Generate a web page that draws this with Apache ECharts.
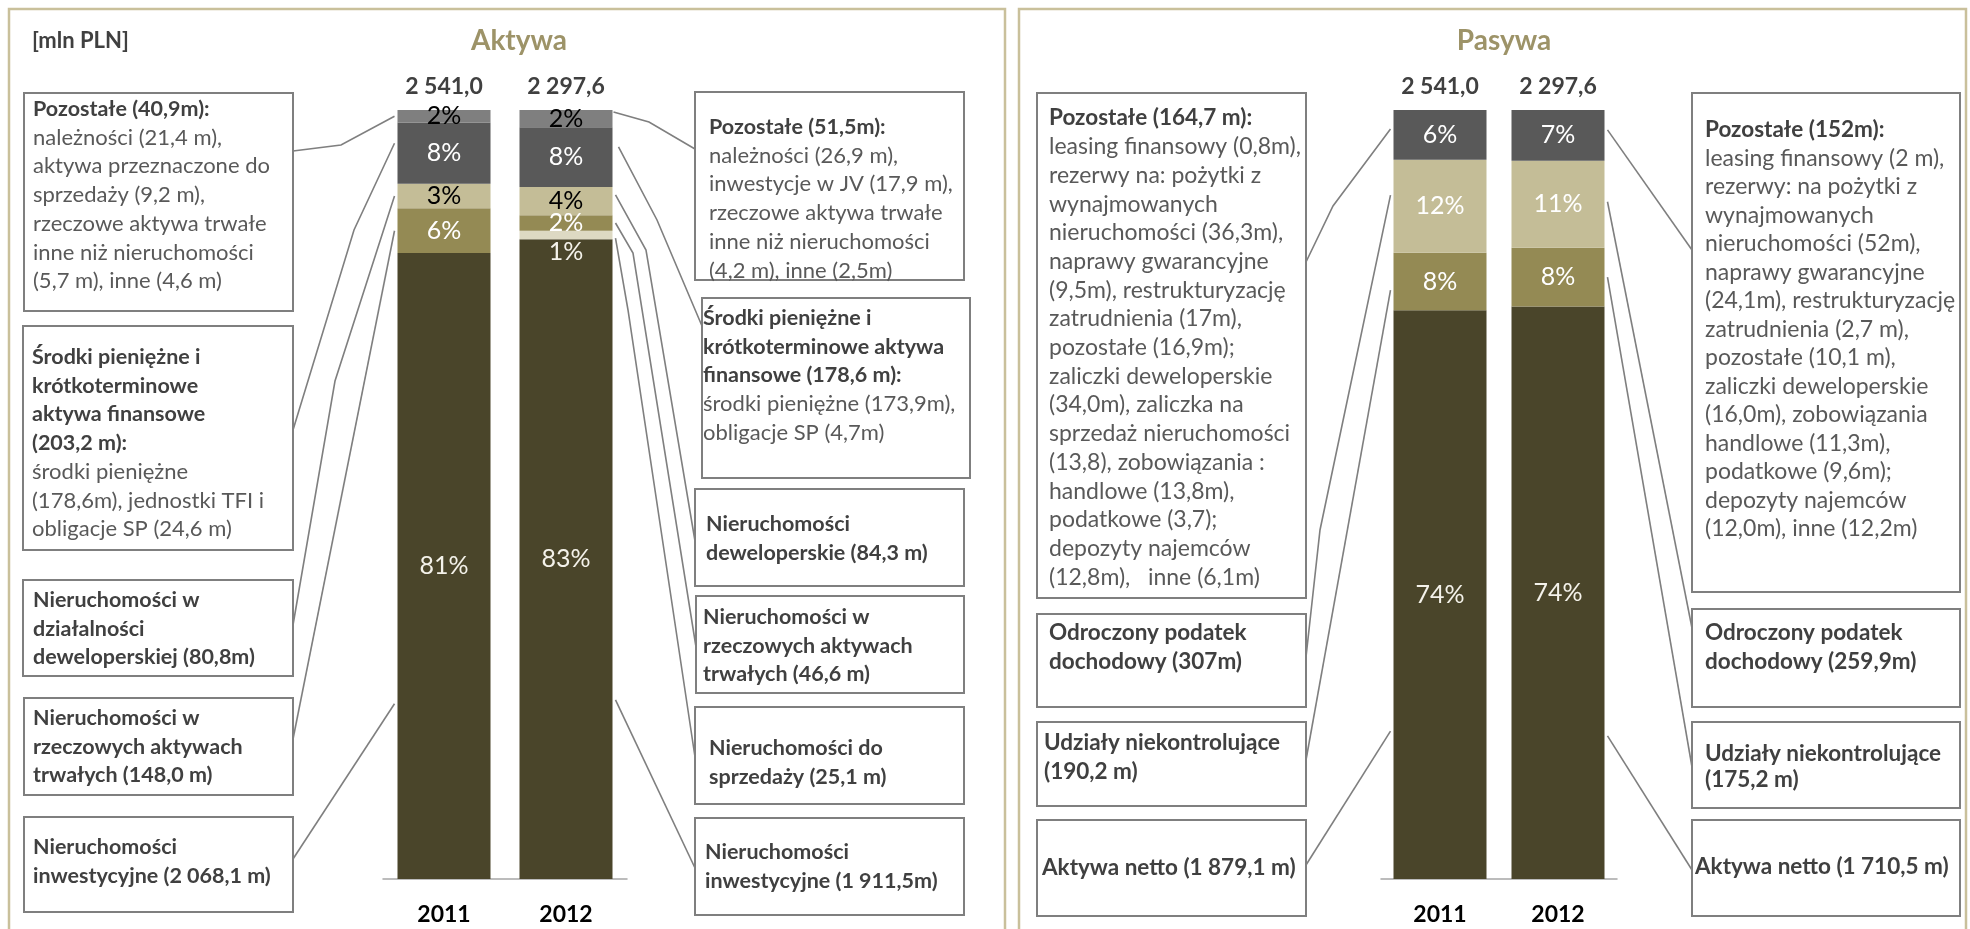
<!DOCTYPE html>
<html><head><meta charset="utf-8">
<script src="https://cdn.jsdelivr.net/npm/echarts@6/dist/echarts.min.js"></script>
<style>html,body{margin:0;padding:0;background:#fff}#c{width:1970px;height:929px}</style>
</head><body><div id="c"></div>
<script>
// ---------- DATA ----------
const years = ['2011', '2012'];
// Aktywa [mln PLN] (stack order bottom -> top)
const aktInwestycyjne = [2068.1, 1911.5];
const aktDoSprzedazy  = [0, 25.1];
const aktRzeczowe     = [148.0, 46.6];
const aktDeweloperskie= [80.8, 84.3];
const aktSrodki       = [203.2, 178.6];
const aktPozostale    = [40.9, 51.5];
// Pasywa [mln PLN]
const pasNetto     = [1879.1, 1710.5];
const pasUdzialy   = [190.2, 175.2];
const pasPodatek   = [307.0, 259.9];
const pasPozostale = [164.7, 152.0];

// Box texts: 'b:' bold line, 'r:' regular line
const txtAktPoz11 = ['b:Pozostałe (40,9m):','r:należności (21,4 m),','r:aktywa przeznaczone do','r:sprzedaży (9,2 m),','r:rzeczowe aktywa trwałe','r:inne niż nieruchomości','r:(5,7 m), inne (4,6 m)'];
const txtAktSrod11 = ['b:Środki pieniężne i','b:krótkoterminowe','b:aktywa finansowe','b:(203,2 m):','r:środki pieniężne','r:(178,6m), jednostki TFI i','r:obligacje SP (24,6 m)'];
const txtAktDew11 = ['b:Nieruchomości w','b:działalności','b:deweloperskiej (80,8m)'];
const txtAktRz11 = ['b:Nieruchomości w','b:rzeczowych aktywach','b:trwałych (148,0 m)'];
const txtAktInw11 = ['b:Nieruchomości','b:inwestycyjne (2 068,1 m)'];
const txtAktPoz12 = ['b:Pozostałe (51,5m):','r:należności (26,9 m),','r:inwestycje w JV (17,9 m),','r:rzeczowe aktywa trwałe','r:inne niż nieruchomości','r:(4,2 m), inne (2,5m)'];
const txtAktSrod12 = ['b:Środki pieniężne i','b:krótkoterminowe aktywa','b:finansowe (178,6 m):','r:środki pieniężne (173,9m),','r:obligacje SP (4,7m)'];
const txtAktDew12 = ['b:Nieruchomości','b:deweloperskie (84,3 m)'];
const txtAktRz12 = ['b:Nieruchomości w','b:rzeczowych aktywach','b:trwałych (46,6 m)'];
const txtAktSp12 = ['b:Nieruchomości do','b:sprzedaży (25,1 m)'];
const txtAktInw12 = ['b:Nieruchomości','b:inwestycyjne (1 911,5m)'];
const txtPasPoz11 = ['b:Pozostałe (164,7 m):','r:leasing finansowy (0,8m),','r:rezerwy na: pożytki z','r:wynajmowanych','r:nieruchomości (36,3m),','r:naprawy gwarancyjne','r:(9,5m), restrukturyzację','r:zatrudnienia (17m),','r:pozostałe (16,9m);','r:zaliczki deweloperskie','r:(34,0m), zaliczka na','r:sprzedaż nieruchomości','r:(13,8), zobowiązania :','r:handlowe (13,8m),','r:podatkowe (3,7);','r:depozyty najemców','r:(12,8m),   inne (6,1m)'];
const txtPasPod11 = ['b:Odroczony podatek','b:dochodowy (307m)'];
const txtPasUdz11 = ['b:Udziały niekontrolujące','b:(190,2 m)'];
const txtPasNet11 = ['b:Aktywa netto (1 879,1 m)'];
const txtPasPoz12 = ['b:Pozostałe (152m):','r:leasing finansowy (2 m),','r:rezerwy: na pożytki z','r:wynajmowanych','r:nieruchomości (52m),','r:naprawy gwarancyjne','r:(24,1m), restrukturyzację','r:zatrudnienia (2,7 m),','r:pozostałe (10,1 m),','r:zaliczki deweloperskie','r:(16,0m), zobowiązania','r:handlowe (11,3m),','r:podatkowe (9,6m);','r:depozyty najemców','r:(12,0m), inne (12,2m)'];
const txtPasPod12 = ['b:Odroczony podatek','b:dochodowy (259,9m)'];
const txtPasUdz12 = ['b:Udziały niekontrolujące','b:(175,2 m)'];
const txtPasNet12 = ['b:Aktywa netto (1 710,5 m)'];

// ---------- HELPERS ----------
const FONT = 'Lato';
const C_DARK = '#4A452A', C_OLIVE = '#948A54', C_TAN = '#C4BD97', C_CREAM = '#DDD9C3', C_G1 = '#595959', C_G2 = '#7F7F7F';
const LIGHT = '#F4F2EA';
const BAR_W = 93;

function sums(arrs){ return years.map((_, i) => arrs.reduce((s, a) => s + a[i], 0)); }
function pcts(arrs, tot){ return arrs.map(a => a.map((v, i) => v / tot[i] * 100)); }
function roundLR(arrs, tot){ // largest remainder rounding per category
  const out = arrs.map(() => years.map(() => 0));
  years.forEach((_, i) => {
    const raw = arrs.map(a => a[i] / tot[i] * 100);
    const fl = raw.map(Math.floor);
    let rest = 100 - fl.reduce((s, v) => s + v, 0);
    const order = raw.map((v, k) => [v - fl[k], k]).sort((a, b) => b[0] - a[0]);
    for (let j = 0; j < rest; j++) fl[order[j][1]]++;
    fl.forEach((v, k) => out[k][i] = v);
  });
  return out;
}
function fmtTotal(v){
  const s = v.toFixed(1).split('.');
  return s[0].replace(/\B(?=(\d{3})+(?!\d))/g, ' ') + ',' + s[1];
}

const aktArrs = [aktInwestycyjne, aktDoSprzedazy, aktRzeczowe, aktDeweloperskie, aktSrodki, aktPozostale];
const pasArrs = [pasNetto, pasUdzialy, pasPodatek, pasPozostale];
const aktTot = sums(aktArrs), pasTot = sums(pasArrs);
const aktPct = pcts(aktArrs, aktTot), pasPct = pcts(pasArrs, pasTot);
const aktLbl = roundLR(aktArrs, aktTot), pasLbl = roundLR(pasArrs, pasTot);

const aktColors = [C_DARK, C_CREAM, C_OLIVE, C_TAN, C_G1, C_G2];
const aktLblColors = [LIGHT, LIGHT, '#ffffff', '#000000', '#ffffff', '#000000'];
const pasColors = [C_DARK, C_OLIVE, C_TAN, C_G1];
const pasLblColors = [LIGHT, '#ffffff', '#ffffff', '#ffffff'];

function mkSeries(grid, k, pctArr, lblArr, color, lblColor, stack){
  const isCream = (grid === 0 && k === 1);
  return {
    type: 'bar', xAxisIndex: grid === 0 ? 0 : 2, yAxisIndex: grid, stack: stack,
    barWidth: BAR_W, data: pctArr, itemStyle: { color: color },
    label: {
      show: true, position: isCream ? 'bottom' : 'inside', distance: 0,
      color: lblColor, fontFamily: FONT, fontSize: 25,
      formatter: p => lblArr[p.dataIndex] ? lblArr[p.dataIndex] + '%' : ''
    },
    emphasis: { disabled: true }, silent: true
  };
}
const series = [];
aktArrs.forEach((_, k) => series.push(mkSeries(0, k, aktPct[k], aktLbl[k], aktColors[k], aktLblColors[k], 'akt')));
pasArrs.forEach((_, k) => series.push(mkSeries(1, k, pasPct[k], pasLbl[k], pasColors[k], pasLblColors[k], 'pas')));

function catAxis(grid, pos, data){
  return pos === 'bottom' ? {
    type: 'category', gridIndex: grid, position: 'bottom', data: data,
    axisLine: { show: true, lineStyle: { color: '#A6A6A6', width: 1.5 } },
    axisTick: { show: false },
    axisLabel: { margin: 24, color: '#000', fontFamily: FONT, fontWeight: 'bold', fontSize: 23 }
  } : {
    type: 'category', gridIndex: grid, position: 'top', data: data,
    axisLine: { show: false }, axisTick: { show: false },
    axisLabel: { margin: 12, color: '#404040', fontFamily: FONT, fontWeight: 'bold', fontSize: 23 }
  };
}

const option = {
  animation: false,
  backgroundColor: '#fff',
  grid: [
    { left: 383, width: 244, top: 110, height: 769 },
    { left: 1381, width: 236, top: 110, height: 769 }
  ],
  xAxis: [
    catAxis(0, 'bottom', years), catAxis(0, 'top', aktTot.map(fmtTotal)),
    catAxis(1, 'bottom', years), catAxis(1, 'top', pasTot.map(fmtTotal))
  ],
  yAxis: [
    { type: 'value', gridIndex: 0, min: 0, max: 100, show: false },
    { type: 'value', gridIndex: 1, min: 0, max: 100, show: false }
  ],
  series: series
};
const chart = echarts.init(document.getElementById('c'), null, { renderer: 'canvas' });
chart.setOption(option);

// ---------- ANNOTATIONS ----------
const LH = 28.7;
function box(x, y, w, h, tx, firstC, lines, fb, fr, lh){
  lh = lh || LH;
  const text = lines.map(l => '{' + l[0] + '|' + l.slice(2) + '}').join('\n');
  return [
    { type: 'rect', shape: { x: x, y: y, width: w, height: h }, style: { fill: '#fff', stroke: '#7F7F7F', lineWidth: 2 }, z: 5 },
    { type: 'text', x: tx, y: firstC - lh / 2, z: 6, style: {
      text: text, verticalAlign: 'top', align: 'left', font: fr + 'px ' + FONT,
      rich: {
        b: { fontFamily: FONT, fontSize: fb, fontWeight: 'bold', fill: '#404040', lineHeight: lh },
        r: { fontFamily: FONT, fontSize: fr, fill: '#595959', lineHeight: lh }
      } } }
  ];
}
function anchor(grid, cat, pctArrs, k, t, side, dx){
  let below = 0;
  for (let j = 0; j < k; j++) below += pctArrs[j][cat];
  const val = below + pctArrs[k][cat] * (1 - t);
  const p = chart.convertToPixel({ gridIndex: grid }, [cat, val]);
  return [p[0] + side * (BAR_W / 2 + 3) + (dx || 0), p[1]];
}
function leader(pts){
  return { type: 'polyline', shape: { points: pts }, style: { stroke: '#7F7F7F', lineWidth: 1.6, fill: null }, z: 4 };
}

const LB = 21.5, LR = 22, RB = 22.5, RR = 23;
const g = [];
// panel frames
g.push({ type: 'rect', shape: { x: 9, y: 9, width: 996, height: 960 }, style: { fill: null, stroke: '#C9C09B', lineWidth: 2.5 }, z: 1 });
g.push({ type: 'rect', shape: { x: 1019, y: 9, width: 947, height: 960 }, style: { fill: null, stroke: '#C9C09B', lineWidth: 2.5 }, z: 1 });
// titles
g.push({ type: 'text', x: 32, y: 41, style: { text: '[mln PLN]', fontFamily: FONT, fontWeight: 'bold', fontSize: 22, fill: '#404040', verticalAlign: 'middle' } });
g.push({ type: 'text', x: 519, y: 41, style: { text: 'Aktywa', fontFamily: FONT, fontWeight: 'bold', fontSize: 28, fill: '#9D9368', align: 'center', verticalAlign: 'middle' } });
g.push({ type: 'text', x: 1504, y: 41, style: { text: 'Pasywa', fontFamily: FONT, fontWeight: 'bold', fontSize: 28, fill: '#9D9368', align: 'center', verticalAlign: 'middle' } });

// Aktywa, left boxes (2011)
g.push(...box(24, 93, 269, 218, 33, 109, txtAktPoz11, LB, LR));
g.push(...box(23, 326, 270, 224, 32, 357, txtAktSrod11, LB, LR));
g.push(...box(23, 580, 270, 96, 33, 600, txtAktDew11, LB, LR));
g.push(...box(24, 698, 269, 97, 33, 718, txtAktRz11, LB, LR));
g.push(...box(24, 817, 269, 95, 33, 847, txtAktInw11, LB, LR));
// Aktywa, right boxes (2012)
g.push(...box(695, 92, 269, 188, 709, 127, txtAktPoz12, LB, LR));
g.push(...box(702, 298, 268, 180, 703, 318, txtAktSrod12, LB, LR));
g.push(...box(695, 489, 269, 97, 706, 524, txtAktDew12, LB, LR));
g.push(...box(696, 596, 268, 97, 703, 617, txtAktRz12, LB, LR));
g.push(...box(695, 707, 269, 97, 709, 748, txtAktSp12, LB, LR));
g.push(...box(695, 818, 269, 97, 705, 852, txtAktInw12, LB, LR));
// Pasywa, left boxes (2011)
g.push(...box(1037, 93, 269, 505, 1049, 118, txtPasPoz11, RB, RR));
g.push(...box(1037, 614, 269, 93, 1049, 633, txtPasPod11, RB, RR));
g.push(...box(1037, 722, 269, 84, 1044, 743, txtPasUdz11, RB, RR));
g.push(...box(1037, 820, 269, 96, 1042, 868, txtPasNet11, RB, RR));
// Pasywa, right boxes (2012)
g.push(...box(1692, 93, 268, 499, 1705, 130, txtPasPoz12, RB, RR, 28.5));
g.push(...box(1692, 609, 268, 98, 1705, 633, txtPasPod12, RB, RR));
g.push(...box(1692, 722, 268, 86, 1705, 754, txtPasUdz12, RB, RR, 26));
g.push(...box(1692, 820, 268, 96, 1695, 867, txtPasNet12, RB, RR));

// leader lines - Aktywa 2011 (left side of bar)
g.push(leader([[293,151],[341,145], anchor(0,0,aktPct,5,0.5,-1)]));
g.push(leader([[293,430],[354,230], anchor(0,0,aktPct,4,0.34,-1)]));
g.push(leader([[293,625],[335,381], anchor(0,0,aktPct,3,0.5,-1)]));
g.push(leader([[293,739], anchor(0,0,aktPct,2,0.5,-1)]));
g.push(leader([[293,859], anchor(0,0,aktPct,0,0.72,-1)]));
// Aktywa 2012 (right side of bar)
g.push(leader([anchor(0,1,aktPct,5,0.12,1,-2),[649,122],[695,149]]));
g.push(leader([anchor(0,1,aktPct,4,0.33,1,3),[657,220],[702,326]]));
g.push(leader([anchor(0,1,aktPct,3,0.28,1),[646,250],[695,541]]));
g.push(leader([anchor(0,1,aktPct,2,0.5,1),[633,253],[696,647]]));
g.push(leader([anchor(0,1,aktPct,1,0.86,1),[628,310],[695,757]]));
g.push(leader([anchor(0,1,aktPct,0,0.72,1),[695,868]]));
// Pasywa 2011
g.push(leader([[1306,262],[1333,206], anchor(1,0,pasPct,3,0.38,-1)]));
g.push(leader([[1306,657],[1320,530], anchor(1,0,pasPct,2,0.38,-1)]));
g.push(leader([[1306,760], anchor(1,0,pasPct,1,0.65,-1)]));
g.push(leader([[1306,865], anchor(1,0,pasPct,0,0.74,-1)]));
// Pasywa 2012
g.push(leader([anchor(1,1,pasPct,3,0.39,1),[1692,250]]));
g.push(leader([anchor(1,1,pasPct,2,0.47,1),[1692,628]]));
g.push(leader([anchor(1,1,pasPct,1,0.5,1),[1692,767]]));
g.push(leader([anchor(1,1,pasPct,0,0.75,1),[1692,870]]));

chart.setOption({ graphic: { elements: g } });
</script>
</body></html>
